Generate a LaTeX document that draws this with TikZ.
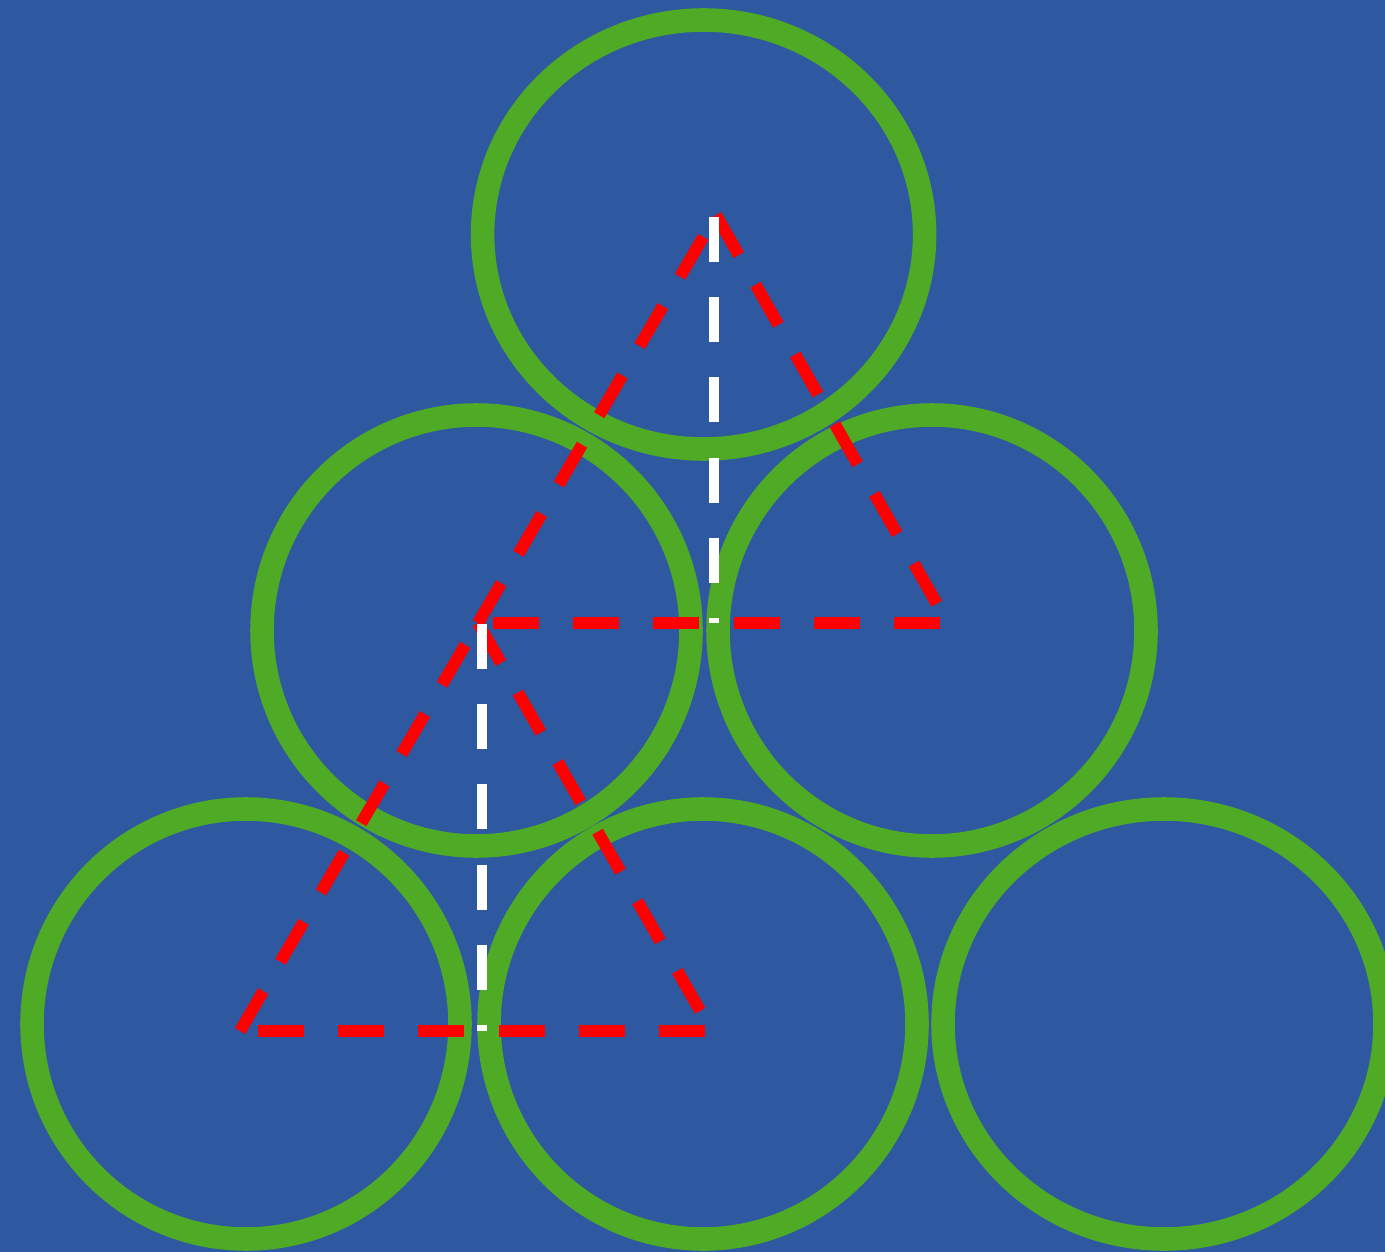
\documentclass[tikz,border=0pt]{standalone}
\usepackage{tikz}
\usetikzlibrary{calc}

\definecolor{bgblue}{RGB}{46,88,160}
\definecolor{ringgreen}{RGB}{79,170,38}

\tikzset{
  ring/.style={draw=ringgreen, line width=6.7pt},
  side/.style={draw=red, line width=3.4pt, dash pattern=on 13.1pt off 9.7pt},
  height/.style={draw=white, line width=3.1pt, dash pattern=on 12.8pt off 10pt}
}

\begin{document}
\begin{tikzpicture}[x=0.01cm, y=-0.01cm]
% Background
\fill[bgblue] (0,0) rectangle (1385,1252);
\useasboundingbox (0,0) rectangle (1385,1252);

% Circle centres
\coordinate (top) at (703.6,234.5);
\coordinate (midL) at (476.5,630.5);
\coordinate (midR) at (932,630.5);
\coordinate (botL) at (246,1024);
\coordinate (botM) at (703,1024);
\coordinate (botR) at (1164,1024);

% Rings
\draw[ring] (top) ellipse [x radius=221, y radius=214.5];
\draw[ring] (midL) ellipse [x radius=214.5, y radius=215.5];
\draw[ring] (midR) ellipse [x radius=214, y radius=215.5];
\draw[ring] (botL) ellipse [x radius=214, y radius=215];
\draw[ring] (botM) ellipse [x radius=214, y radius=215];
\draw[ring] (botR) ellipse [x radius=221, y radius=215];

% Upper triangle
\coordinate (a1) at (716,215);
\coordinate (b1) at (946,620);
\coordinate (c1) at (478,623);
\draw[side] (a1) -- (b1);
\draw[side] (940,623) -- (c1);
\draw[side] (c1) -- (a1);

% Lower triangle
\coordinate (a2) at (478,623);
\coordinate (b2) at (710,1028);
\coordinate (c2) at (240,1031);
\draw[side] (a2) -- (b2);
\draw[side] (705,1031) -- (c2);
\draw[side] (c2) -- (a2);

% Heights
\coordinate (h1) at (714,217);
\coordinate (f1) at (714,623);
\coordinate (h2) at (482,624);
\coordinate (f2) at (482,1031);
\draw[height] (h1) -- (f1);
\draw[height] (h2) -- (f2);
\end{tikzpicture}
\end{document}
